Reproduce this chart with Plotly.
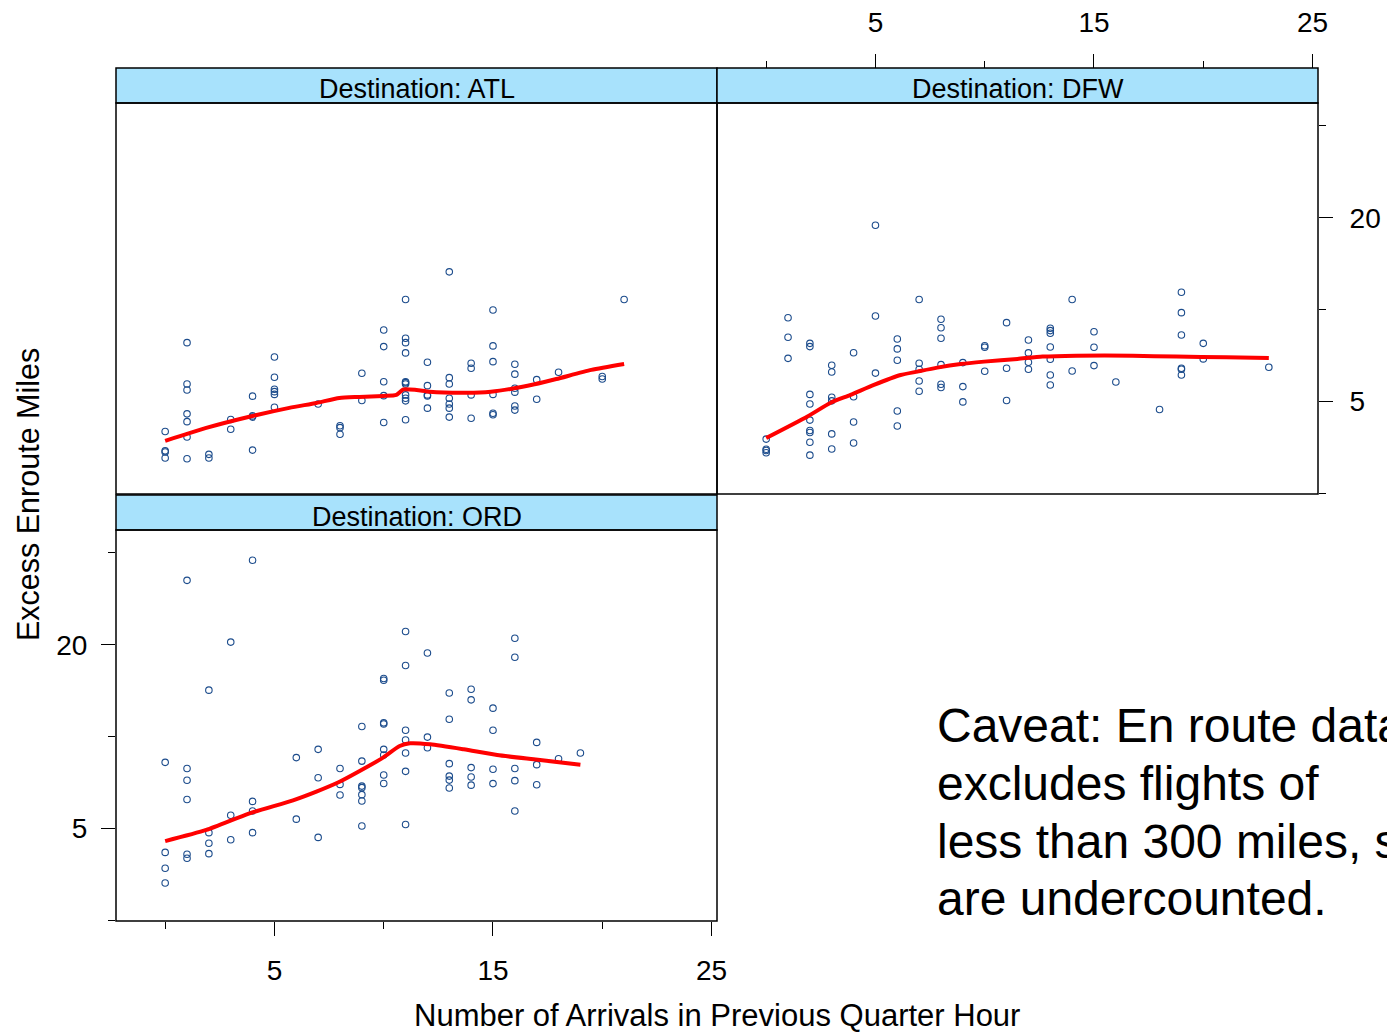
import math
import plotly.graph_objects as go

W, H = 1387, 1034

# ---------------- data ----------------
atl_arrivals = [0, 0, 0, 0,
                1, 1, 1, 1, 1, 1, 1,
                2, 2,
                3, 3,
                4, 4, 4, 4,
                5, 5, 5, 5, 5, 5,
                7,
                8, 8, 8,
                9, 9,
                10, 10, 10, 10, 10,
                11, 11, 11, 11, 11, 11, 11, 11, 11, 11, 11,
                12, 12, 12, 12, 12,
                13, 13, 13, 13, 13, 13, 13,
                14, 14, 14, 14,
                15, 15, 15, 15, 15, 15,
                16, 16, 16, 16, 16, 16,
                17, 17,
                18,
                20, 20,
                21]
atl_excess = [3.99, 3.45, 3.42, 3.27,
              7.8, 5.71, 5.46, 4.56, 4.30, 3.83, 3.25,
              3.36, 3.27,
              4.37, 4.06,
              5.21, 4.49, 4.45, 3.47,
              7.0, 6.01, 5.49, 5.39, 5.28, 4.79,
              4.91,
              4.17, 4.11, 3.91,
              6.19, 5.04,
              8.58, 7.57, 5.81, 5.23, 4.27,
              10.8, 8.06, 7.8, 7.22, 5.81, 5.77, 5.71, 5.26, 5.13, 5.03, 4.36,
              6.73, 5.64, 5.26, 5.22, 4.76,
              13.3, 5.99, 5.71, 5.13, 4.91, 4.76, 4.45,
              6.68, 6.43, 5.26, 4.41,
              9.98, 7.61, 6.76, 5.28, 4.58, 4.53,
              6.63, 6.15, 5.53, 5.37, 4.84, 4.69,
              5.90, 5.09,
              6.24,
              6.04, 5.93,
              10.8]

dfw_arrivals = [0, 0, 0, 0,
                1, 1, 1,
                2, 2, 2, 2, 2, 2, 2, 2, 2,
                3, 3, 3, 3, 3, 3,
                4, 4, 4, 4,
                5, 5, 5,
                6, 6, 6, 6, 6,
                7, 7, 7, 7, 7,
                8, 8, 8, 8, 8, 8,
                9, 9, 9,
                10, 10, 10,
                11, 11, 11,
                12, 12, 12, 12,
                13, 13, 13, 13, 13, 13, 13,
                14, 14,
                15, 15, 15,
                16,
                18,
                19, 19, 19, 19, 19, 19,
                20, 20,
                23]
dfw_excess = [3.77, 3.49, 3.46, 3.40,
              9.41, 8.12, 6.93,
              7.76, 7.57, 5.28, 4.91, 4.35, 4.02, 3.96, 3.68, 3.34,
              6.58, 6.25, 5.17, 5.03, 3.92, 3.50,
              7.23, 5.19, 4.29, 3.66,
              18.9, 9.54, 6.20,
              8.02, 7.44, 6.83, 4.66, 4.16,
              10.8, 6.68, 6.38, 5.84, 5.41,
              9.30, 8.73, 8.06, 6.61, 5.70, 5.56,
              6.71, 5.60, 4.99,
              7.62, 7.53, 6.29,
              9.07, 6.43, 5.04,
              7.96, 7.22, 6.73, 6.38,
              8.69, 8.54, 8.37, 7.55, 6.88, 6.11, 5.67,
              10.8, 6.30,
              8.47, 7.53, 6.56,
              5.80,
              4.71,
              11.4, 9.78, 8.26, 6.43, 6.38, 6.11,
              7.76, 6.90,
              6.48]

ord_arrivals = [0, 0, 0, 0,
                1, 1, 1, 1, 1, 1,
                2, 2, 2, 2,
                3, 3, 3,
                4, 4, 4, 4,
                6, 6,
                7, 7, 7,
                8, 8, 8,
                9, 9, 9, 9, 9, 9, 9,
                10, 10, 10, 10, 10, 10, 10, 10,
                11, 11, 11, 11, 11, 11, 11,
                12, 12, 12,
                13, 13, 13, 13, 13, 13,
                14, 14, 14, 14, 14,
                15, 15, 15, 15,
                16, 16, 16, 16, 16,
                17, 17, 17,
                18,
                19]
ord_excess = [8.24, 4.18, 3.71, 3.32,
              32.5, 7.87, 7.20, 6.23, 4.12, 4.00,
              14.2, 4.85, 4.48, 4.14,
              20.4, 5.53, 4.60,
              37.8, 6.14, 5.71, 4.85,
              8.54, 5.37,
              9.09, 7.34, 4.68,
              7.87, 6.98, 6.44,
              10.8, 8.32, 6.89, 6.81, 6.46, 6.16, 5.10,
              15.5, 15.3, 11.1, 11.0, 9.09, 8.71, 7.49, 7.03,
              22.1, 17.1, 10.5, 9.75, 8.84, 7.70, 5.16,
              18.8, 9.97, 9.20,
              13.9, 11.4, 8.16, 7.43, 7.21, 6.79,
              14.3, 13.2, 7.92, 7.38, 6.94,
              12.4, 10.5, 7.82, 7.02,
              21.0, 18.2, 7.87, 7.18, 5.71,
              9.58, 8.10, 6.96,
              8.47,
              8.84]

# smoothed (loess) curves
atl_smooth_x = [0, 1.88, 3.85, 5.68, 6.92, 7.97, 8.88, 9.98, 10.58, 10.9, 11.5, 12.1,
                13.8, 14.9, 15.8, 16.9, 17.9, 19.5, 21.0]
atl_smooth_y = [3.72, 4.10, 4.46, 4.77, 4.95, 5.14, 5.18, 5.22, 5.26, 5.48, 5.46, 5.39,
                5.35, 5.39, 5.50, 5.70, 5.93, 6.35, 6.64]
dfw_smooth_x = [0, 1.89, 2.95, 3.86, 4.93, 6.15, 6.92, 7.83, 8.9, 9.97, 11.5, 12.65,
                14.18, 16.77, 18.76, 21.05, 23.0]
dfw_smooth_y = [3.80, 4.47, 4.96, 5.26, 5.67, 6.11, 6.27, 6.46, 6.64, 6.76, 6.90, 7.02,
                7.07, 7.07, 7.02, 6.99, 6.95]
ord_smooth_x = [0, 1.88, 3.86, 5.85, 6.92, 7.98, 8.9, 9.97, 10.73, 11.2, 12.13, 13.66,
                15.19, 16.86, 19.0]
ord_smooth_y = [4.55, 4.95, 5.61, 6.19, 6.61, 7.12, 7.72, 8.54, 9.32, 9.51, 9.44, 9.09,
                8.71, 8.43, 8.10]

panel_titles = ["Destination: ATL", "Destination: DFW", "Destination: ORD"]
x_major_ticks = [5, 15, 25]
x_minor_ticks = [0, 10, 20]
y_major_ticks = [5, 20]
y_minor_ticks = [2.5, 10, 40]
x_title = "Number of Arrivals in Previous Quarter Hour"
y_title = "Excess Enroute Miles"
caveat_lines = ["Caveat: En route data",
                "excludes flights of",
                "less than 300 miles, so",
                "are undercounted."]

# ---------------- styling ----------------
FONT = "Arial, Liberation Sans, Helvetica, sans-serif"
PT_COLOR = "#1c4c8c"
LINE_COLOR = "#ff0000"
STRIP_COLOR = "#a8e2fc"


def px(x):
    return x / W


def py(y):
    return 1 - y / H


XR = [-2.25, 25.25]
YR = [math.log10(2.492), math.log10(47.5)]

fig = go.Figure()

panels = [
    (atl_arrivals, atl_excess, atl_smooth_x, atl_smooth_y, "x", "y"),
    (dfw_arrivals, dfw_excess, dfw_smooth_x, dfw_smooth_y, "x2", "y2"),
    (ord_arrivals, ord_excess, ord_smooth_x, ord_smooth_y, "x3", "y3"),
]
for xs, ys, sx, sy, xa, ya in panels:
    fig.add_trace(go.Scatter(
        x=xs, y=ys, mode="markers", xaxis=xa, yaxis=ya, showlegend=False,
        marker=dict(symbol="circle-open", size=6.5, color=PT_COLOR,
                    line=dict(width=1.1, color=PT_COLOR)),
        hoverinfo="skip"))
    fig.add_trace(go.Scatter(
        x=sx, y=sy, mode="lines", xaxis=xa, yaxis=ya, showlegend=False,
        line=dict(color=LINE_COLOR, width=4, shape="spline", smoothing=0.6),
        hoverinfo="skip"))

# panel pixel boxes: (left, right, strip_top, panel_top, panel_bottom)
boxes = [(116, 717, 68, 103, 494),
         (717, 1318, 68, 103, 494),
         (116, 717, 495, 530, 921)]

tickfont = dict(family=FONT, size=28, color="black")
common_x = dict(range=XR, showgrid=False, zeroline=False, showline=False)
common_y = dict(type="log", range=YR, showgrid=False, zeroline=False, showline=False)

fig.update_layout(
    width=W, height=H, autosize=False,
    margin=dict(l=0, r=0, t=0, b=0, autoexpand=False),
    paper_bgcolor="white", plot_bgcolor="white",
    font=dict(family=FONT, color="black"),
    xaxis=dict(domain=[px(116), px(717)], anchor="y", showticklabels=False,
               ticks="", **common_x),
    yaxis=dict(domain=[py(494), py(103)], anchor="x", showticklabels=False,
               ticks="", **common_y),
    xaxis2=dict(domain=[px(717), px(1318)], anchor="free", position=py(68), side="top",
                tickmode="array", tickvals=x_major_ticks, ticks="outside", ticklen=14,
                tickwidth=1, tickcolor="black", tickfont=tickfont, ticklabelstandoff=11,
                minor=dict(tickmode="array", tickvals=x_minor_ticks, ticks="outside",
                           ticklen=7, tickwidth=1, tickcolor="black"),
                **common_x),
    yaxis2=dict(domain=[py(494), py(103)], anchor="x2", side="right",
                tickmode="array", tickvals=y_major_ticks,
                ticktext=[str(v) for v in y_major_ticks], ticks="outside", ticklen=14,
                tickwidth=1, tickcolor="black", tickfont=tickfont, ticklabelstandoff=11,
                minor=dict(tickmode="array", tickvals=y_minor_ticks, ticks="outside",
                           ticklen=7, tickwidth=1, tickcolor="black"),
                **common_y),
    xaxis3=dict(domain=[px(116), px(717)], anchor="y3", side="bottom",
                tickmode="array", tickvals=x_major_ticks, ticks="outside", ticklen=14,
                tickwidth=1, tickcolor="black", tickfont=tickfont, ticklabelstandoff=10,
                minor=dict(tickmode="array", tickvals=x_minor_ticks, ticks="outside",
                           ticklen=7, tickwidth=1, tickcolor="black"),
                **common_x),
    yaxis3=dict(domain=[py(921), py(530)], anchor="x3", side="left",
                tickmode="array", tickvals=y_major_ticks,
                ticktext=[str(v) for v in y_major_ticks], ticks="outside", ticklen=14,
                tickwidth=1, tickcolor="black", tickfont=tickfont, ticklabelstandoff=8,
                minor=dict(tickmode="array", tickvals=y_minor_ticks, ticks="outside",
                           ticklen=7, tickwidth=1, tickcolor="black"),
                **common_y),
)

shapes = []
annotations = []
for (l, r, st, pt, pb), title in zip(boxes, panel_titles):
    # strip
    shapes.append(dict(type="rect", xref="paper", yref="paper",
                       x0=px(l), x1=px(r), y0=py(pt), y1=py(st),
                       fillcolor=STRIP_COLOR, line=dict(color="black", width=1.5),
                       layer="above"))
    # panel border
    shapes.append(dict(type="rect", xref="paper", yref="paper",
                       x0=px(l), x1=px(r), y0=py(pb), y1=py(pt),
                       fillcolor="rgba(0,0,0,0)", line=dict(color="black", width=1.5),
                       layer="above"))
    annotations.append(dict(text=title, xref="paper", yref="paper",
                            x=px((l + r) / 2), y=py((st + pt) / 2 + 4),
                            xanchor="center", yanchor="middle", showarrow=False,
                            font=dict(family=FONT, size=27, color="black")))

annotations.append(dict(text=y_title, xref="paper", yref="paper",
                        x=px(28), y=py(495), textangle=-90,
                        xanchor="center", yanchor="middle", showarrow=False,
                        font=dict(family=FONT, size=30.5, color="black")))
annotations.append(dict(text=x_title, xref="paper", yref="paper",
                        x=px(717), y=py(1016),
                        xanchor="center", yanchor="middle", showarrow=False,
                        font=dict(family=FONT, size=31, color="black")))

caveat_y = [725, 783, 841, 898]
for line, yy in zip(caveat_lines, caveat_y):
    annotations.append(dict(text=line, xref="paper", yref="paper",
                            x=px(935), y=py(yy), xanchor="left", yanchor="middle",
                            showarrow=False,
                            font=dict(family=FONT, size=48, color="black")))

fig.update_layout(shapes=shapes, annotations=annotations)

page_fix = (
    "document.body.style.margin='0';"
    "document.body.style.overflow='hidden';"
)

fig.write_html("out.html", config={"displayModeBar": False}, post_script=page_fix)
